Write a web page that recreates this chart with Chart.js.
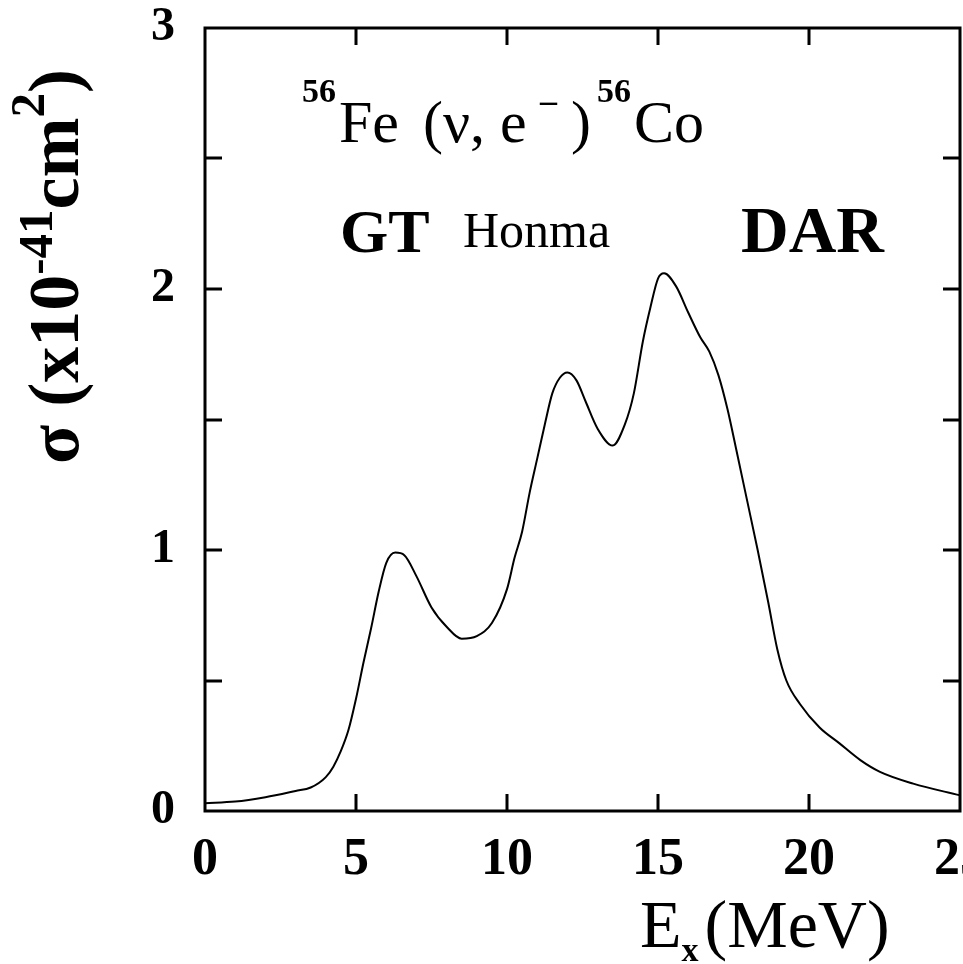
<!DOCTYPE html>
<html>
<head>
<meta charset="utf-8">
<script src="https://cdn.jsdelivr.net/npm/chart.js@4.4.1/dist/chart.umd.min.js"></script>
<style>
 html, body {margin:0; padding:0; background:#fff; overflow:hidden;}
 #box {position:relative; width:1000px; height:964px;}
</style>
</head>
<body>
<div id="box"><canvas id="chart" width="1000" height="964"></canvas></div>
<script>
// excitation energy E_x (MeV)
var energy = [0, 1, 2, 3, 3.5, 4, 4.25, 4.5, 4.75, 5, 5.25, 5.5, 5.75, 6, 6.3, 6.6, 7, 7.5, 8, 8.5,
              9, 9.5, 10, 10.25, 10.5, 10.75, 11, 11.25, 11.5, 11.75, 12, 12.3, 12.6, 13, 13.5, 13.9,
              14.2, 14.5, 14.75, 15, 15.2, 15.6, 16, 16.4, 16.7, 17, 17.3, 17.6, 17.95, 18.3, 18.65,
              18.95, 19.25, 19.7, 20.35, 21, 21.7, 22.35, 23.45, 25];

// cross section sigma (x10^-41 cm^2)
var sigma  = [0.03, 0.036, 0.053, 0.077, 0.09, 0.13, 0.17, 0.23, 0.31, 0.43, 0.57, 0.70, 0.84, 0.95, 0.99, 0.98, 0.90, 0.78, 0.706, 0.66,
              0.67, 0.72, 0.85, 0.97, 1.07, 1.22, 1.35, 1.48, 1.60, 1.66, 1.68, 1.65, 1.57, 1.465, 1.40, 1.48,
              1.60, 1.80, 1.93, 2.04, 2.06, 2.01, 1.91, 1.815, 1.76, 1.67, 1.54, 1.38, 1.19, 1.00, 0.80,
              0.62, 0.50, 0.41, 0.32, 0.26, 0.195, 0.15, 0.105, 0.06];

var xTicks = [0, 5, 10, 15, 20, 25];
var yTicks = [0, 1, 2, 3];
var yMarks = [0.5, 1, 1.5, 2, 2.5];
var xMarks = [5, 10, 15, 20];

var SERIF = "'Liberation Serif', 'Times New Roman', serif";


// draws text pieces one after another, shifting the baseline for super/subscripts
function Draw_Runs(ctx, x, y, runs)
{
 for(var run of runs)
 {
  ctx.font = (run.bold ? "bold " : "") + run.size + "px " + SERIF;
  if(run.x !== undefined) x = run.x;
  ctx.fillText(run.text, x, y - (run.rise || 0));
  x += ctx.measureText(run.text).width + (run.gap || 0);
 }
}


var frame =
{
 id: "frame",
 afterDraw: function(chart)
 {
  var ctx  = chart.ctx;
  var area = chart.chartArea;
  var sx   = chart.scales.x;
  var sy   = chart.scales.y;
  var tl   = 17;

  ctx.save();
  ctx.strokeStyle = "#000";
  ctx.lineWidth   = 3;
  ctx.strokeRect(area.left, area.top, area.right - area.left, area.bottom - area.top);

  // inner tick marks on all four sides
  ctx.beginPath();
  for(var v of xMarks)
  {
   var px = Math.round(sx.getPixelForValue(v));
   ctx.moveTo(px, area.bottom); ctx.lineTo(px, area.bottom - tl);
   ctx.moveTo(px, area.top);    ctx.lineTo(px, area.top + tl);
  }
  for(var v of yMarks)
  {
   var py = Math.round(sy.getPixelForValue(v));
   ctx.moveTo(area.left, py);  ctx.lineTo(area.left + tl, py);
   ctx.moveTo(area.right, py); ctx.lineTo(area.right - tl, py);
  }
  ctx.stroke();

  ctx.fillStyle    = "#000";
  ctx.textAlign    = "left";
  ctx.textBaseline = "alphabetic";

  // reaction label
  Draw_Runs(ctx, 302, 142,
  [
   {text:"56",   size:34, bold:true, rise:40, x:302},
   {text:"Fe",   size:60, x:339},
   {text:"(\u03bd, e", size:60, x:423},
   {text:"\u2013", size:34, bold:true, rise:30, x:540},
   {text:")",    size:60, x:571},
   {text:"56",   size:34, bold:true, rise:40, x:597},
   {text:"Co",   size:60, x:634}
  ]);

  Draw_Runs(ctx, 340, 252, [{text:"GT",    size:62, bold:true}]);
  Draw_Runs(ctx, 463, 247, [{text:"Honma", size:50}]);
  Draw_Runs(ctx, 741, 252, [{text:"DAR",   size:66, bold:true}]);

  // x axis title
  Draw_Runs(ctx, 640, 947,
  [
   {text:"E",     size:68},
   {text:"x",     size:34, bold:true, rise:-14, gap:6},
   {text:"(MeV)", size:68}
  ]);

  // y axis title, rotated
  ctx.translate(78, 464);
  ctx.rotate(-Math.PI / 2);
  Draw_Runs(ctx, 0, 0,
  [
   {text:"\u03c3 (x10", size:72, bold:true},
   {text:"-41",  size:49, bold:true, rise:26},
   {text:"cm",   size:72, bold:true},
   {text:"2",    size:49, bold:true, rise:34},
   {text:")",    size:72, bold:true}
  ]);
  ctx.restore();
 }
};


var points = energy.map(function(e, i) { return {x:e, y:sigma[i]}; });

var config =
{
 type: "line",
 data:
 {
  datasets:
  [{
   data:                   points,
   borderColor:            "#000",
   borderWidth:            2,
   pointRadius:            0,
   fill:                   false,
   cubicInterpolationMode: "monotone"
  }]
 },
 options:
 {
  responsive:       false,
  animation:        false,
  devicePixelRatio: 1,
  layout:  {padding: {top:28, right:40, left:0, bottom:0}},
  plugins: {legend: {display:false}, tooltip: {enabled:false}},
  scales:
  {
   x:
   {
    type: "linear", min: 0, max: 25,
    grid:   {display:false, drawTicks:false},
    border: {display:false},
    ticks:  {color:"#000", padding:24, maxRotation:0, autoSkip:false, font:{family:SERIF, size:52, weight:"bold", lineHeight:1}},
    afterBuildTicks: function(s) { s.ticks = xTicks.map(function(v) { return {value:v}; }); },
    afterFit: function(s)
    {
     s.height       = 153;
     s.paddingLeft  = 0;
     s.paddingRight = 0;
    }
   },
   y:
   {
    type: "linear", min: 0, max: 3,
    grid:   {display:false, drawTicks:false},
    border: {display:false},
    ticks:  {color:"#000", padding:30, autoSkip:false, font:{family:SERIF, size:48, weight:"bold", lineHeight:1}},
    afterBuildTicks: function(s) { s.ticks = yTicks.map(function(v) { return {value:v}; }); },
    afterFit: function(s)
    {
     s.width         = 205;
     s.paddingTop    = 0;
     s.paddingBottom = 0;
    }
   }
  }
 },
 plugins: [frame]
};

var chart = new Chart(document.getElementById("chart").getContext("2d"), config);
</script>
</body>
</html>
